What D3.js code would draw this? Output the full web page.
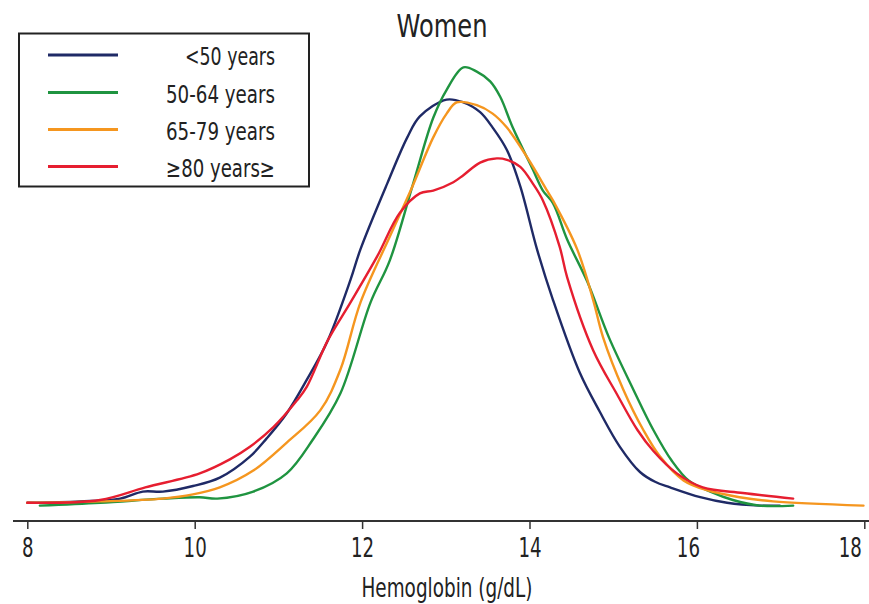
<!DOCTYPE html>
<html>
<head>
<meta charset="utf-8">
<script src="https://cdn.jsdelivr.net/npm/d3@7"></script>
<style>
  html, body { margin: 0; padding: 0; background: #fff; }
  svg { display: block; }
  text { font-family: "DejaVu Sans", "Liberation Sans", sans-serif; fill: #222; }
</style>
</head>
<body>
<svg id="chart" width="869" height="604"></svg>
<script>
// ---- Data (hemoglobin g/dL, density) ----
const title = "Women";
const xLabel = "Hemoglobin (g/dL)";
const xTicks = [8, 10, 12, 14, 16, 18];
const seriesNames = ["<50 years", "50-64 years", "65-79 years", "\u226580 years\u2265"];

const under50 = [
  [8.00,0.003],[8.63,0.004],[9.11,0.006],[9.38,0.011],[9.62,0.011],[9.98,0.015],[10.30,0.021],
  [10.66,0.036],[10.86,0.049],[11.10,0.067],[11.34,0.091],[11.59,0.119],[11.86,0.162],[11.98,0.184],
  [12.30,0.231],[12.54,0.264],[12.69,0.279],[13.01,0.291],[13.21,0.289],[13.41,0.282],[13.56,0.271],
  [13.73,0.255],[13.89,0.229],[14.09,0.184],[14.28,0.148],[14.60,0.096],[14.84,0.068],[15.08,0.043],
  [15.32,0.025],[15.50,0.018],[15.68,0.014],[16.04,0.007],[16.36,0.003],[16.75,0.001],[16.99,0.001]
];
const y50to64 = [
  [8.15,0.001],[8.87,0.003],[9.62,0.006],[10.06,0.007],[10.27,0.006],[10.70,0.011],[11.10,0.024],
  [11.41,0.048],[11.74,0.081],[12.10,0.146],[12.33,0.176],[12.61,0.231],[12.85,0.278],[13.01,0.298],
  [13.21,0.314],[13.37,0.311],[13.53,0.304],[13.65,0.293],[13.80,0.271],[14.04,0.241],[14.16,0.226],
  [14.28,0.217],[14.45,0.191],[14.69,0.161],[14.95,0.121],[15.24,0.084],[15.48,0.055],[15.70,0.033],
  [15.90,0.019],[16.16,0.011],[16.43,0.005],[16.75,0.001],[17.15,0.001]
];
const y65to79 = [
  [8.00,0.003],[8.87,0.004],[9.62,0.006],[9.98,0.009],[10.30,0.014],[10.70,0.026],[11.10,0.046],
  [11.50,0.069],[11.74,0.098],[11.98,0.146],[12.33,0.193],[12.58,0.226],[12.85,0.264],[13.01,0.281],
  [13.13,0.289],[13.37,0.287],[13.56,0.281],[13.73,0.271],[13.97,0.250],[14.21,0.226],[14.28,0.219],
  [14.57,0.184],[14.76,0.148],[14.88,0.121],[15.12,0.084],[15.36,0.055],[15.56,0.036],[15.84,0.019],
  [16.12,0.012],[16.51,0.007],[16.91,0.004],[17.99,0.001]
];
const y80plus = [
  [8.00,0.003],[8.87,0.005],[9.41,0.014],[10.06,0.024],[10.42,0.034],[10.66,0.043],[10.94,0.057],
  [11.22,0.076],[11.34,0.086],[11.59,0.119],[11.86,0.146],[12.18,0.179],[12.45,0.210],[12.69,0.224],
  [12.85,0.226],[13.09,0.232],[13.21,0.237],[13.41,0.246],[13.61,0.249],[13.73,0.248],[13.89,0.243],
  [14.04,0.231],[14.16,0.219],[14.36,0.186],[14.45,0.164],[14.76,0.112],[15.05,0.080],[15.29,0.055],
  [15.48,0.040],[15.76,0.024],[16.07,0.014],[16.55,0.010],[17.15,0.006]
];
const seriesData = [under50, y50to64, y65to79, y80plus];
const seriesColors = ["#1f2a66", "#1f9440", "#f5961f", "#e61e30"];

// ---- Layout ----
const svg = d3.select("#chart");
const x = d3.scaleLinear().domain([8, 18]).range([27.3, 864.3]);
const y = d3.scaleLinear().domain([0, 0.3]).range([507, 87]);

// squeeze DejaVu into the reference's condensed text widths
function fitText(sel, width) {
  sel.attr("textLength", width).attr("lengthAdjust", "spacingAndGlyphs");
}

// curves
const line = d3.line().x(d => x(d[0])).y(d => y(d[1])).curve(d3.curveCatmullRom.alpha(0.5));
svg.append("g").selectAll("path").data(seriesData).join("path")
  .attr("d", line)
  .attr("fill", "none")
  .attr("stroke", (d, i) => seriesColors[i])
  .attr("stroke-width", 2.4)
  .attr("stroke-linejoin", "round")
  .attr("stroke-linecap", "round");

// x axis
const axisG = svg.append("g").attr("transform", "translate(0,521)");
axisG.append("line").attr("x1", 13).attr("x2", 869).attr("y1", 0).attr("y2", 0)
  .attr("stroke", "#333").attr("stroke-width", 2);
const ax = d3.axisBottom(x).tickValues(xTicks).tickSize(8).tickPadding(10).tickFormat(d3.format("d"));
axisG.call(ax);
axisG.select(".domain").remove();
axisG.selectAll(".tick line").attr("stroke", "#333").attr("stroke-width", 1.5);
const sx = 0.7;
axisG.selectAll(".tick text")
  .attr("font-size", 26)
  .attr("fill", "#222")
  .style("font-family", '"DejaVu Sans", sans-serif')
  .attr("transform", `scale(${sx},1)`)
  .each(function(d) {
    const t = d3.select(this);
    if (d === 16) t.attr("x", -9 / sx);
    if (d === 18) t.attr("text-anchor", "end").attr("x", -3 / sx);
  });

// axis label
fitText(svg.append("text").attr("x", 447).attr("y", 597).attr("text-anchor", "middle")
  .attr("font-size", 27).text(xLabel), 171);

// title
fitText(svg.append("text").attr("x", 442).attr("y", 37).attr("text-anchor", "middle")
  .attr("font-size", 32).text(title), 91);

// legend
const lg = svg.append("g");
lg.append("rect").attr("x", 19).attr("y", 33.5).attr("width", 290).attr("height", 153)
  .attr("fill", "#fff").attr("stroke", "#222").attr("stroke-width", 2);
const legendY = [55, 92.5, 129.5, 166.5];
const legendW = [90, 109, 109, 109];
seriesNames.forEach((name, i) => {
  lg.append("line").attr("x1", 48).attr("x2", 118).attr("y1", legendY[i]).attr("y2", legendY[i])
    .attr("stroke", seriesColors[i]).attr("stroke-width", 3);
  fitText(lg.append("text").attr("x", 275).attr("y", legendY[i] + 10).attr("text-anchor", "end")
    .attr("font-size", 25).text(name), legendW[i]);
});
</script>
</body>
</html>
